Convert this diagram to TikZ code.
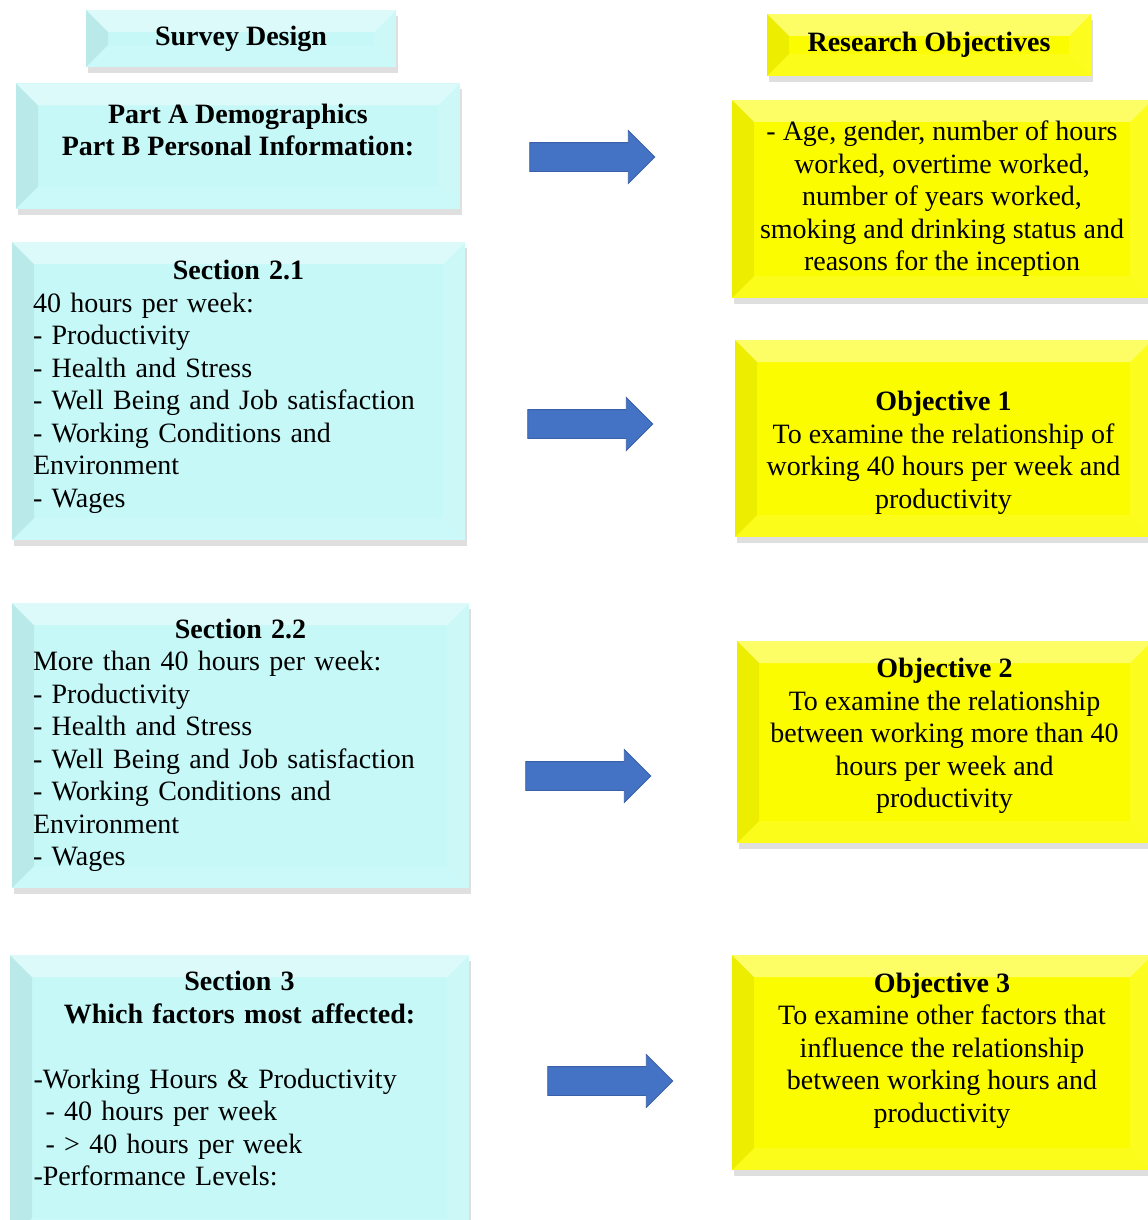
\documentclass[tikz,border=0pt]{standalone}
\usepackage{fontspec}
\setmainfont{Liberation Serif}
\usepackage{tikz}
\usetikzlibrary{shapes.arrows}
\usetikzlibrary{shadows}
\definecolor{SurveyCyan}{RGB}{198,248,248}
\definecolor{ObjYellow}{RGB}{252,252,0}
\definecolor{ArrowBlue}{RGB}{68,114,196}
\newcommand{\boxfont}{\fontsize{14}{16.25}\selectfont}
\tikzset{
    bevelled/.style={path picture={
        \def\bb{path picture bounding box}
        \fill[white,opacity=.4] (\bb.north west) -- (\bb.north east) -- ([shift={(-11pt,-11pt)}]\bb.north east) -- ([shift={(11pt,-11pt)}]\bb.north west) -- cycle;
        \fill[black,opacity=.06] (\bb.north west) -- ([shift={(11pt,-11pt)}]\bb.north west) -- ([shift={(11pt,11pt)}]\bb.south west) -- (\bb.south west) -- cycle;
        \fill[white,opacity=.12] (\bb.north east) -- ([shift={(-11pt,-11pt)}]\bb.north east) -- ([shift={(-11pt,11pt)}]\bb.south east) -- (\bb.south east) -- cycle;
        \fill[white,opacity=.1] (\bb.south west) -- ([shift={(11pt,11pt)}]\bb.south west) -- ([shift={(-11pt,11pt)}]\bb.south east) -- (\bb.south east) -- cycle;
    }},
    basebox/.style={bevelled, inner xsep=10.5pt, inner ysep=0pt, font=\boxfont,
        drop shadow={shadow xshift=1pt, shadow yshift=-3pt, opacity=.25}},
    surveybox/.style={basebox, fill=SurveyCyan},
    objbox/.style={basebox, fill=ObjYellow, align=center},
    blockarrow/.style={single arrow, fill=ArrowBlue, draw=ArrowBlue!85!black, line width=.4pt,
        inner xsep=0pt, inner ysep=7pt, text height=0pt, text depth=0pt,
        minimum height=62.5pt, single arrow head extend=6pt}
}

\begin{document}
\begin{tikzpicture}[x=0.5pt,y=-0.5pt]
    \useasboundingbox (0,0) rectangle (1147,1220);
    \fill[white] (0,0) rectangle (1147,1220);
    % survey design column
    \node[surveybox, align=center, minimum width=155pt, minimum height=28.5pt] (survey) at (241,38.5) {\textbf{Survey Design}};
    \node[surveybox, align=center, minimum width=222pt, minimum height=62.5pt] (parts) at (238,146)
        {\textbf{Part A Demographics}\\\textbf{Part B Personal Information:}\rule[-4pt]{0pt}{4pt}\\\mbox{}};
    \node[surveybox, text width=205.5pt, minimum width=226.5pt, minimum height=149pt] (sec21) at (238.5,391)
        {\parindent=0pt{\centering\textbf{Section 2.1}\par}
        {\raggedright 40 hours per week:\\- Productivity\\- Health and Stress\\- Well Being and Job satisfaction\\- Working Conditions and\\Environment\\- Wages\rule[-7pt]{0pt}{7pt}\par}};
    \node[surveybox, text width=207.5pt, minimum width=228.5pt, minimum height=142.5pt] (sec22) at (240.5,745.5)
        {\parindent=0pt{\centering\textbf{Section 2.2}\par}
        {\raggedright More than 40 hours per week:\\- Productivity\\- Health and Stress\\- Well Being and Job satisfaction\\- Working Conditions and\\Environment\\- Wages\par}};
    \node[surveybox, text width=206pt, minimum width=229.5pt, minimum height=142.5pt] (sec3) at (239.5,1097.5)
        {\parindent=0pt{\centering\textbf{Section 3}\\\textbf{Which factors most affected:}\\\mbox{}\par}
        {\raggedright -Working Hours \& Productivity\\\hspace*{6pt}- 40 hours per week\\\hspace*{6pt}- > 40 hours per week\\-Performance Levels:\rule[-19pt]{0pt}{19pt}\par}};
    % research objectives column
    \node[objbox, minimum width=162pt, minimum height=31pt] (resobj) at (929,45) {\textbf{Research Objectives}};
    \node[objbox, minimum width=210pt, minimum height=99pt] (demo) at (942,199)
        {- Age, gender, number of hours\\worked, overtime worked,\\number of years worked,\\smoking and drinking status and\\reasons for the inception};
    \node[objbox, minimum width=208.5pt, minimum height=98.5pt] (obj1) at (943.5,438.5)
        {\rule{0pt}{24pt}\textbf{Objective 1}\\To examine the relationship of\\working 40 hours per week and\\productivity};
    \node[objbox, minimum width=207.5pt, minimum height=101pt] (obj2) at (944.5,742)
        {\textbf{Objective 2}\\To examine the relationship\\between working more than 40\\hours per week and\\productivity\rule[-9pt]{0pt}{9pt}};
    \node[objbox, minimum width=210pt, minimum height=107.5pt] (obj3) at (942,1062.5)
        {\textbf{Objective 3}\\To examine other factors that\\influence the relationship\\between working hours and\\productivity\rule[-15pt]{0pt}{15pt}};
    % block arrows
    \node[blockarrow] (arrA) at (585,157) {};
    \node[blockarrow] (arrB) at (583,424) {};
    \node[blockarrow] (arrC) at (581,776) {};
    \node[blockarrow] (arrD) at (603,1081) {};
\end{tikzpicture}
\end{document}
